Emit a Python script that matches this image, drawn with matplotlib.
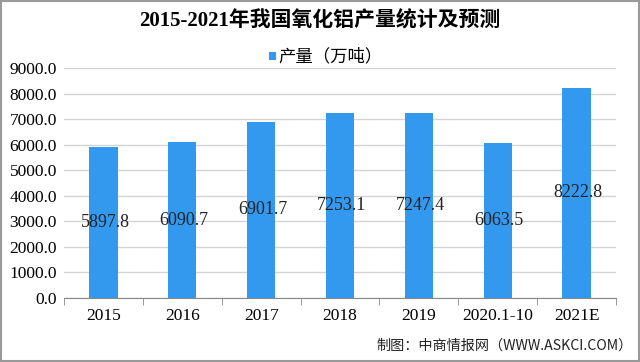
import matplotlib.pyplot as plt
from matplotlib.patches import Rectangle
import numpy as np

categories = ["2015", "2016", "2017", "2018", "2019", "2020.1-10", "2021E"]
output = [5897.8, 6090.7, 6901.7, 7253.1, 7247.4, 6063.5, 8222.8]
y_ticks = [0, 1000, 2000, 3000, 4000, 5000, 6000, 7000, 8000, 9000]

SERIF = ["Liberation Serif", "Noto Sans CJK SC"]
CJK = ["Noto Sans CJK SC", "DejaVu Sans"]
BAR = "#3399ee"

fig = plt.figure(figsize=(6.4, 3.62), dpi=100)
ax = fig.add_axes([0.1, 0.177, 0.8625, 0.635])

x = np.arange(len(categories))
ax.bar(x, output, width=0.36, color=BAR, zorder=3)

for xi, v in zip(x, output):
    ax.text(xi + 0.02, v / 2, f"{v:.1f}", ha="center", va="center",
            fontsize=13, family=SERIF, color="#222222", zorder=4)

ax.set_xlim(-0.5, len(categories) - 0.5)
ax.set_ylim(0, 9000)
ax.set_yticks(y_ticks)
ax.set_yticklabels([f"{t:.1f}" for t in y_ticks], family=SERIF, fontsize=12.5)
ax.set_xticks(x)
ax.set_xticklabels(categories, family=SERIF, fontsize=12.5)
ax.set_xticks(np.arange(len(categories) + 1) - 0.5, minor=True)
ax.tick_params(axis="x", which="major", length=0, pad=7)
ax.tick_params(axis="x", which="minor", length=5, color="#888888")
ax.tick_params(axis="y", length=0, pad=5)

ax.yaxis.grid(True, color="#d4d4d4", linewidth=1, zorder=0)
for s in ["top", "right", "left"]:
    ax.spines[s].set_visible(False)
ax.spines["bottom"].set_color("#888888")

fig.text(0.5, 0.94, "2015-2021年我国氧化铝产量统计及预测", ha="center", va="center",
         fontsize=15, fontweight="bold", family=SERIF)

# legend
fig.patches.append(Rectangle((0.421, 0.833), 0.011, 0.022, transform=fig.transFigure,
                             facecolor=BAR, edgecolor="none"))
fig.text(0.435, 0.844, "产量（万吨）", ha="left", va="center", fontsize=12.5, family=CJK)

fig.text(0.988, 0.046, "制图：中商情报网（WWW.ASKCI.COM）", ha="right", va="center",
         fontsize=10.2, family=CJK, color="#222222")

fig.patches.append(Rectangle((0.001, 0.002), 0.997, 0.995, transform=fig.transFigure,
                             facecolor="none", edgecolor="#999999", linewidth=1.5))

fig.savefig("out.png", dpi=100)
